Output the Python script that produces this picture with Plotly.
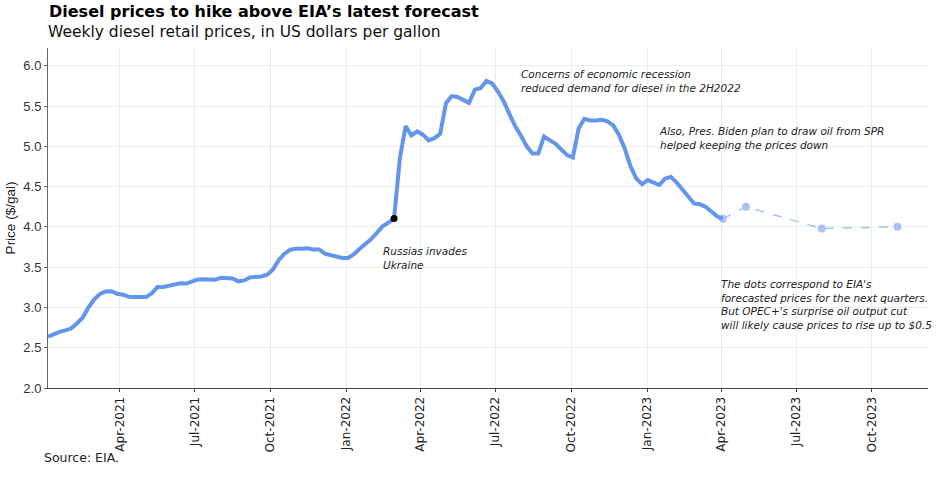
import pandas as pd
import plotly.graph_objects as go

# ---- data (weekly US diesel retail price, $/gal) ----
start_week = "2021-01-04"
prices_2021 = [2.637, 2.670, 2.696, 2.716,
               2.738, 2.801, 2.873, 2.997,
               3.097, 3.169, 3.199, 3.202, 3.170,
               3.158, 3.134, 3.131, 3.124,
               3.129, 3.175, 3.254, 3.255, 3.265,
               3.286, 3.300, 3.296, 3.323,
               3.346, 3.350, 3.348, 3.344,
               3.367, 3.369, 3.359, 3.323, 3.335,
               3.373, 3.375, 3.384, 3.406,
               3.472, 3.586, 3.667, 3.716,
               3.729, 3.727, 3.735, 3.720, 3.719,
               3.667, 3.649, 3.621, 3.614]
prices_2022 = [3.613, 3.657, 3.725, 3.780, 3.846,
               3.924, 4.006, 4.051, 4.104,
               4.849, 5.250, 5.134, 5.185,
               5.144, 5.073, 5.101, 5.155,
               5.535, 5.623, 5.613, 5.571, 5.539,
               5.703, 5.720, 5.810, 5.781,
               5.680, 5.560, 5.400, 5.250,
               5.130, 5.000, 4.910, 4.910, 5.120,
               5.080, 5.030, 4.960, 4.890,
               4.860, 5.220, 5.340, 5.320, 5.320,
               5.330, 5.310, 5.260, 5.140,
               4.970, 4.750, 4.600, 4.530]
prices_2023 = [4.580, 4.550, 4.520, 4.600, 4.620,
               4.550, 4.460, 4.380, 4.290,
               4.280, 4.250, 4.190, 4.130,
               4.100]

forecast_dates = ["2023-05-01", "2023-08-01", "2023-11-01"]
forecast_values = [4.25, 3.98, 4.00]

invasion_date = "2022-02-28"
invasion_value = 4.104

prices = prices_2021 + prices_2022 + prices_2023
dates = pd.date_range(start_week, periods=len(prices), freq="7D")

BLUE = "#6495ED"

fig = go.Figure()
fig.add_trace(go.Scatter(
    x=dates, y=prices, mode="lines",
    line=dict(color=BLUE, width=4), hoverinfo="x+y", showlegend=False))

fig.add_trace(go.Scatter(
    x=[dates[-1]] + [pd.Timestamp(d) for d in forecast_dates],
    y=[prices[-1]] + forecast_values,
    mode="lines+markers",
    line=dict(color=BLUE, width=1.5, dash="dash"),
    marker=dict(color=BLUE, size=8),
    opacity=0.55, showlegend=False))

fig.add_trace(go.Scatter(
    x=[pd.Timestamp(invasion_date)], y=[invasion_value], mode="markers",
    marker=dict(color="black", size=7), showlegend=False))

# plot area: 880 x 340 px, at (48..928, 48..388)
PW, PH = 880.0, 340.0
def px(xabs):
    return (xabs - 48) / PW
def py(yabs):
    return (388 - yabs) / PH

ann_font = dict(family="DejaVu Sans", size=10.5, color="#222")
annotations = [
    dict(text="<b>Diesel prices to hike above EIA’s latest forecast</b>",
         xref="paper", yref="paper", x=px(47), y=py(12),
         xanchor="left", yanchor="middle", showarrow=False,
         font=dict(family="DejaVu Sans", size=16, color="black")),
    dict(text="Weekly diesel retail prices, in US dollars per gallon",
         xref="paper", yref="paper", x=px(46), y=py(32),
         xanchor="left", yanchor="middle", showarrow=False,
         font=dict(family="DejaVu Sans", size=15.5, color="#111")),
    dict(text="Source: EIA.",
         xref="paper", yref="paper", x=px(42), y=py(457),
         xanchor="left", yanchor="middle", showarrow=False,
         font=dict(family="DejaVu Sans", size=12.5, color="#222")),
    dict(text="<i>Russias invades<br>Ukraine</i>",
         xref="paper", yref="paper", x=px(381), y=py(257.5),
         xanchor="left", yanchor="middle", align="left", showarrow=False,
         font=ann_font),
    dict(text="<i>Concerns of economic recession<br>reduced demand for diesel in the 2H2022</i>",
         xref="paper", yref="paper", x=px(519), y=py(81),
         xanchor="left", yanchor="middle", align="left", showarrow=False,
         font=ann_font),
    dict(text="<i>Also, Pres. Biden plan to draw oil from SPR<br>helped keeping the prices down</i>",
         xref="paper", yref="paper", x=px(657), y=py(137.5),
         xanchor="left", yanchor="middle", align="left", showarrow=False,
         font=ann_font),
    dict(text="<i>The dots correspond to EIA's<br>forecasted prices for the next quarters.<br>"
              "But OPEC+'s surprise oil output cut<br>will likely cause prices to rise up to $0.5</i>",
         xref="paper", yref="paper", x=px(719), y=py(304),
         xanchor="left", yanchor="middle", align="left", showarrow=False,
         font=ann_font),
]

fig.update_layout(
    width=936, height=496,
    margin=dict(l=48, r=8, t=48, b=108),
    paper_bgcolor="white", plot_bgcolor="white",
    annotations=annotations,
    showlegend=False,
)
fig.update_xaxes(
    type="date", range=["2021-01-04", "2023-12-08"],
    dtick="M3", tick0="2021-01-01", tickformat="%b-%Y", tickangle=-90,
    showgrid=True, gridcolor="#ececec", gridwidth=1,
    showline=True, linecolor="#444", linewidth=1,
    ticks="outside", ticklen=3, tickcolor="#444",
    tickfont=dict(family="DejaVu Sans", size=12, color="#222"),
    zeroline=False, automargin=False,
)
fig.update_yaxes(
    range=[2, 6.22], dtick=0.5, tick0=2, tickformat=".1f",
    showgrid=True, gridcolor="#ececec", gridwidth=1,
    showline=True, linecolor="#666", linewidth=1,
    ticks="outside", ticklen=3, tickcolor="#666",
    tickfont=dict(family="Liberation Sans", size=13, color="#333"),
    title=dict(text="Price ($/gal)", font=dict(family="Liberation Sans", size=13.5, color="#222"),
               standoff=4),
    zeroline=False, automargin=False,
)

# remove the default page margin so the figure fills the window exactly
fig.write_html("out.html",
               config={"displayModeBar": False},
               post_script="document.body.style.margin='0';document.body.style.overflow='hidden';")
